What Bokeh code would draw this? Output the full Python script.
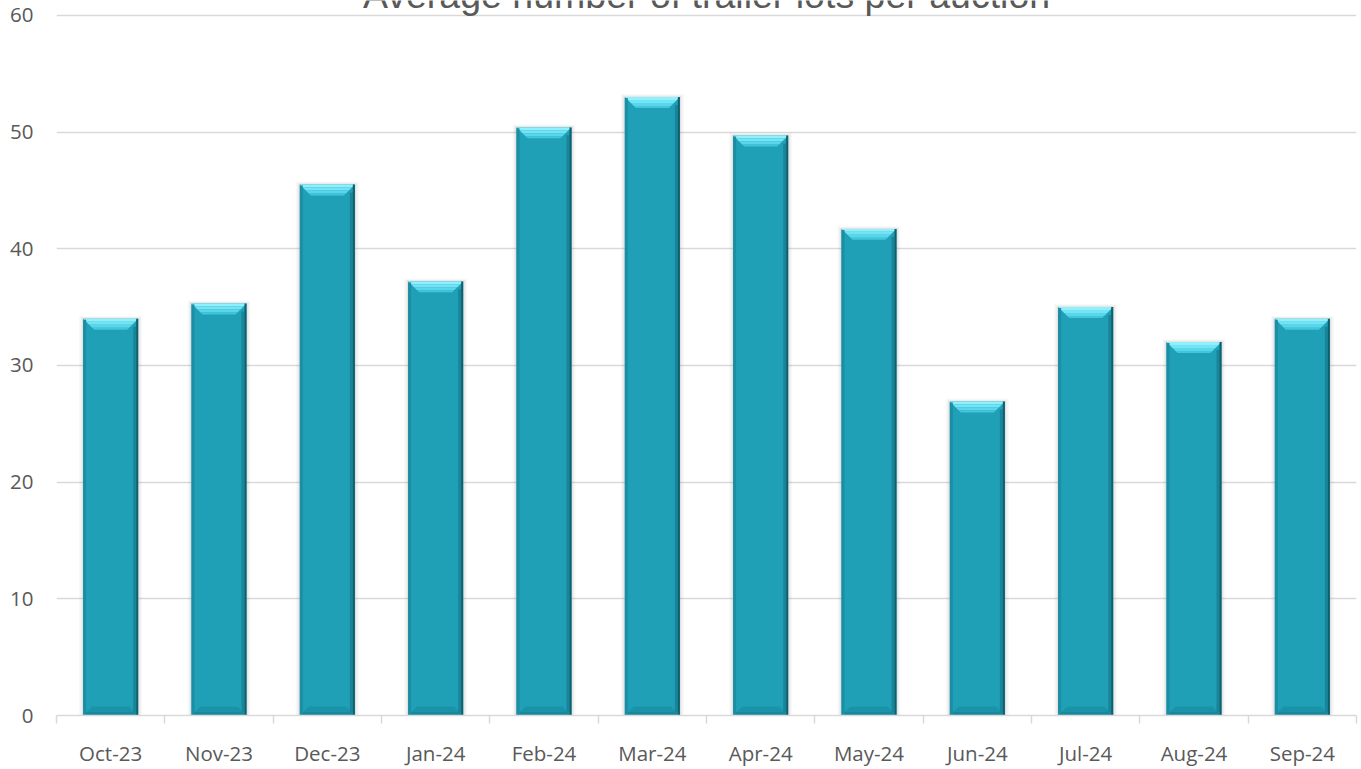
import numpy as np
from bokeh.plotting import figure
from bokeh.models import Range1d, FixedTicker, Label, ColumnDataSource
from bokeh.embed import file_html
from bokeh.resources import INLINE

# Monthly averages of trailer lots per auction
months = ["Oct-23", "Nov-23", "Dec-23", "Jan-24", "Feb-24", "Mar-24",
          "Apr-24", "May-24", "Jun-24", "Jul-24", "Aug-24", "Sep-24"]
avg_lots = [34.0, 35.3, 45.5, 37.2, 50.4, 53.0, 49.7, 41.7, 26.9, 35.0, 32.0, 34.0]
y_ticks = [0, 10, 20, 30, 40, 50, 60]

TITLE = "Average number of trailer lots per auction"
TEXT_GREY = "#595959"
GRID_GREY = "#d9d9d9"

W, H = 1361, 769
LEFT, RIGHT, TOP, BOTTOM = 56, 5, 0, 47
frame_w = W - LEFT - RIGHT
frame_h = H - TOP - BOTTOM

n = len(months)
y_top = 60 * frame_h / (frame_h - 15)  # leaves room above the 60 gridline
sx = frame_w / n          # pixels per x unit
sy = frame_h / y_top      # pixels per y unit

x = np.arange(n) + 0.5
v = np.array(avg_lots)
bw = 0.508

p = figure(width=W, height=H, x_range=Range1d(0, n), y_range=Range1d(0, y_top),
           output_backend="svg", toolbar_location=None,
           min_border_left=LEFT, min_border_right=RIGHT,
           min_border_top=TOP, min_border_bottom=BOTTOM)
p.outline_line_color = None
p.background_fill_color = "white"
p.border_fill_color = "white"

# grid
p.xgrid.visible = False
p.ygrid.grid_line_color = GRID_GREY
p.ygrid.grid_line_width = 1.4

# y axis: labels only
p.yaxis.ticker = FixedTicker(ticks=y_ticks)
p.yaxis.axis_line_color = None
p.yaxis.major_tick_line_color = None
p.yaxis.minor_tick_line_color = None
p.yaxis.major_label_standoff = 17
p.yaxis.major_label_text_font = "Open Sans"
p.yaxis.major_label_text_font_size = "20.5px"
p.yaxis.major_label_text_color = TEXT_GREY

# x axis: month labels at centres, tick marks at category boundaries
p.xaxis.ticker = FixedTicker(ticks=list(x), minor_ticks=list(range(n + 1)))
p.xaxis.major_label_overrides = {float(xi): m for xi, m in zip(x, months)}
p.xaxis.axis_line_color = GRID_GREY
p.xaxis.axis_line_width = 1.5
p.xaxis.major_tick_line_color = None
p.xaxis.major_tick_out = 0
p.xaxis.major_tick_in = 0
p.xaxis.minor_tick_line_color = GRID_GREY
p.xaxis.minor_tick_line_width = 1.5
p.xaxis.minor_tick_out = 8
p.xaxis.minor_tick_in = 0
p.xaxis.major_label_standoff = 15
p.xaxis.major_label_text_font = "Open Sans"
p.xaxis.major_label_text_font_size = "20.5px"
p.xaxis.major_label_text_color = TEXT_GREY

src = ColumnDataSource(dict(x=x, top=v))

# soft shadow around each bar
for grow, alpha in [(8, 0.05), (5, 0.07), (2.5, 0.10)]:
    p.vbar(x=x, top=v + grow * 0.35 / sy, bottom=0, width=bw + grow / sx,
           fill_color="#7a7a7a", fill_alpha=alpha, line_color=None)

# bar body
p.vbar(x="x", top="top", bottom=0, width=bw, source=src,
       fill_color="#1fa0b7", line_color=None)

# bevel bands: trapezoids inset along 45-degree corners
def trapezoids(y_edge, sign, d0, d1, x_centres):
    xs, ys = [], []
    for xc, ye in zip(x_centres, y_edge):
        l, r = xc - bw / 2, xc + bw / 2
        xs.append([l + d0 / sx, r - d0 / sx, r - d1 / sx, l + d1 / sx])
        ys.append([ye + sign * d0 / sy, ye + sign * d0 / sy,
                   ye + sign * d1 / sy, ye + sign * d1 / sy])
    return xs, ys

zeros = np.zeros(n)
for d0, d1, col in [(0, 4, "#16889c"), (4, 9, "#1a93a9")]:
    xs, ys = trapezoids(zeros, 1, d0, d1, x)
    p.patches(xs, ys, fill_color=col, line_color=None)

# top bevel, light bands fading into the body colour
for d0, d1, col in [(0, 3, "#8ff0fb"), (3, 6, "#72e4f5"), (6, 9, "#5ad6eb"), (9, 11, "#42c6dc")]:
    xs, ys = trapezoids(v, -1, d0, d1, x)
    p.patches(xs, ys, fill_color=col, line_color=None)

# side edges
p.vbar(x=x - bw / 2 + 1.5 / sx, top=v - 1 / sy, bottom=0, width=3 / sx,
       fill_color="#1b8ea4", line_color=None)
p.vbar(x=x + bw / 2 - 3.5 / sx, top=v - 8 / sy, bottom=3 / sy, width=3 / sx,
       fill_color="#1a8598", line_color=None)
p.vbar(x=x + bw / 2 - 1 / sx, top=v, bottom=0, width=2 / sx,
       fill_color="#0f5f6d", line_color=None)

# chart title
p.add_layout(Label(x=n / 2, y=60 + 21 / sy, text=TITLE, text_align="center",
                   text_baseline="alphabetic", text_font="Liberation Sans",
                   text_font_size="37.5px", text_color=TEXT_GREY))

open("out.html", "w").write(file_html(p, INLINE))
